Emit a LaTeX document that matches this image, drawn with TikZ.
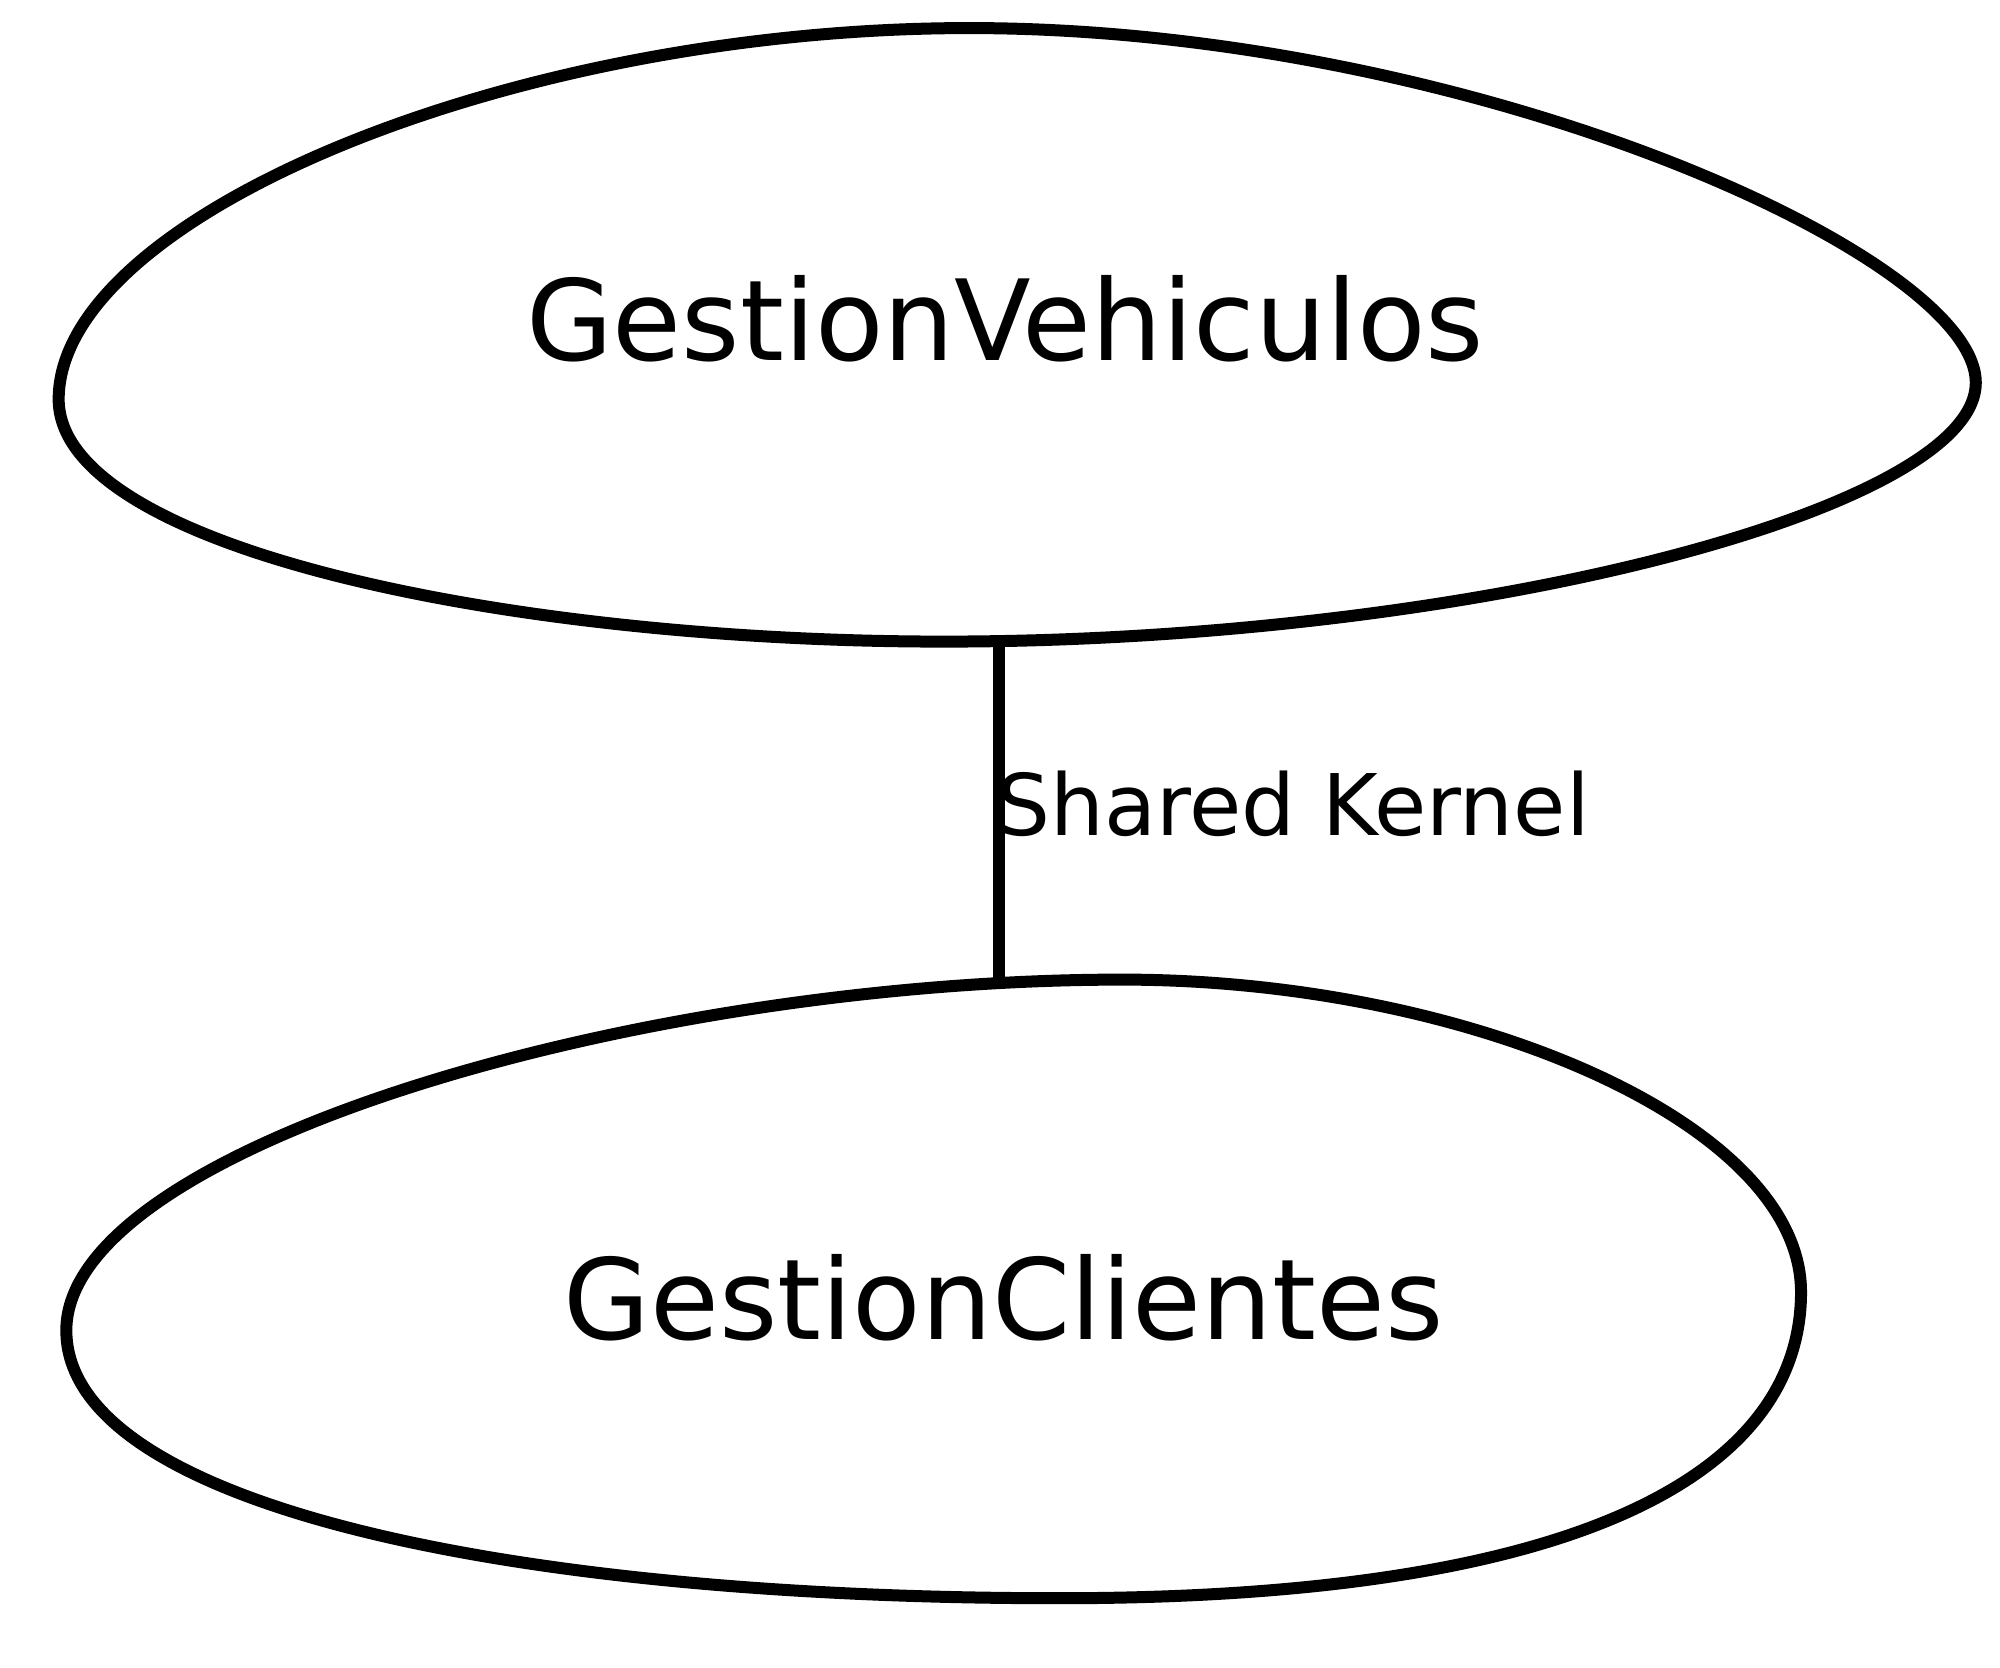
\documentclass[tikz,border=0pt]{standalone}
\usepackage{fontspec}
\setmainfont{DejaVu Sans}
\begin{document}
\begin{tikzpicture}[x=1.2755pt,y=-1.2755pt,
  blob/.style={draw=black,line width=12pt},
  link/.style={draw=black,line width=12pt},
  ctxtext/.style={inner sep=0pt,anchor=base,font=\fontsize{112}{126}\selectfont},
  lbltext/.style={inner sep=0pt,anchor=base west,font=\fontsize{85}{100}\selectfont}]
\useasboundingbox[fill=white] (0,0) rectangle (1568,1307);
% GestionVehiculos context
\draw[blob] (760,22) .. controls (400,22) and (46,170) .. (46,313)
  .. controls (46,430) and (400,503) .. (740,503)
  .. controls (1150,503) and (1549,400) .. (1549,300)
  .. controls (1549,200) and (1150,22) .. (760,22) -- cycle;
% GestionClientes context
\draw[blob] (880,768) .. controls (500,768) and (52,900) .. (52,1043)
  .. controls (52,1180) and (400,1253) .. (830,1253)
  .. controls (1250,1253) and (1412,1150) .. (1412,1013)
  .. controls (1412,880) and (1150,768) .. (880,768) -- cycle;
\node[ctxtext] (gv) at (788,283) {GestionVehiculos};
\node[ctxtext] (gc) at (787,1050) {GestionClientes};
\coordinate (gvb) at (783,502);
\coordinate (gct) at (783,771);
\draw[link] (gvb) -- (gct);
\node[lbltext] (lbl) at (781,655) {Shared Kernel};
\end{tikzpicture}
\end{document}
